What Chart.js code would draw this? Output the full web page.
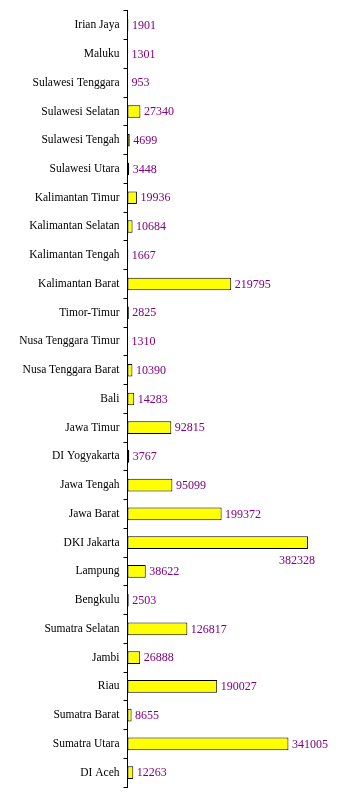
<!DOCTYPE html>
<html>
<head>
<meta charset="utf-8">
<script src="https://cdn.jsdelivr.net/npm/chart.js@4"></script>
<style>
  html, body { margin: 0; padding: 0; background: #ffffff; }
  #wrap { width: 355px; height: 808px; position: relative; }
</style>
</head>
<body>
<div id="wrap"><canvas id="c"></canvas></div>
<script>
const categories = [
  "Irian Jaya", "Maluku", "Sulawesi Tenggara", "Sulawesi Selatan", "Sulawesi Tengah",
  "Sulawesi Utara", "Kalimantan Timur", "Kalimantan Selatan", "Kalimantan Tengah",
  "Kalimantan Barat", "Timor-Timur", "Nusa Tenggara Timur", "Nusa Tenggara Barat",
  "Bali", "Jawa Timur", "DI Yogyakarta", "Jawa Tengah", "Jawa Barat", "DKI Jakarta",
  "Lampung", "Bengkulu", "Sumatra Selatan", "Jambi", "Riau", "Sumatra Barat",
  "Sumatra Utara", "DI Aceh"
];
const values = [
  1901, 1301, 953, 27340, 4699,
  3448, 19936, 10684, 1667,
  219795, 2825, 1310, 10390,
  14283, 92815, 3767, 95099, 199372, 382328,
  38622, 2503, 126817, 26888, 190027, 8655,
  341005, 12263
];
const xMax = 446000;

const valueLabels = {
  id: 'valueLabels',
  afterDatasetsDraw(chart) {
    const ctx = chart.ctx;
    const meta = chart.getDatasetMeta(0);
    const xs = chart.scales.x;
    const area = chart.chartArea;
    ctx.save();
    ctx.font = '12px "Liberation Serif", "Times New Roman", serif';
    ctx.fillStyle = '#800080';
    ctx.textBaseline = 'middle';
    meta.data.forEach((bar, i) => {
      const v = values[i];
      const txt = String(v);
      const end = xs.getPixelForValue(v);
      const w = ctx.measureText(txt).width;
      if (end + 3 + w > area.right) {
        ctx.textAlign = 'right';
        ctx.fillText(txt, end + 7, bar.y + 18);
      } else {
        ctx.textAlign = 'left';
        ctx.fillText(txt, end + 3.5, bar.y + 0.5);
      }
    });
    ctx.restore();
  }
};

new Chart(document.getElementById('c'), {
  type: 'bar',
  data: {
    labels: categories,
    datasets: [{
      data: values,
      backgroundColor: '#ffff00',
      borderColor: '#000000',
      borderWidth: 1,
      borderSkipped: false,
      barPercentage: 0.44,
      categoryPercentage: 1.0
    }]
  },
  options: {
    indexAxis: 'y',
    responsive: true,
    maintainAspectRatio: false,
    animation: false,
    events: [],
    layout: { padding: { left: 0, right: 17, top: 10, bottom: 21 } },
    plugins: {
      legend: { display: false },
      tooltip: { enabled: false },
      title: { display: false }
    },
    scales: {
      x: {
        display: false,
        min: 0,
        max: xMax
      },
      y: {
        offset: true,
        afterFit(scale) { scale.width = 127.5; },
        grid: {
          display: true,
          offset: true,
          drawOnChartArea: false,
          drawTicks: true,
          tickLength: 4,
          color: '#000000',
          lineWidth: 1
        },
        border: { display: true, color: '#000000', width: 1 },
        ticks: {
          color: '#000000',
          padding: 4,
          autoSkip: false,
          font: { family: '"Liberation Serif", "Times New Roman", serif', size: 11.5 }
        }
      }
    }
  },
  plugins: [valueLabels]
});
</script>
</body>
</html>
